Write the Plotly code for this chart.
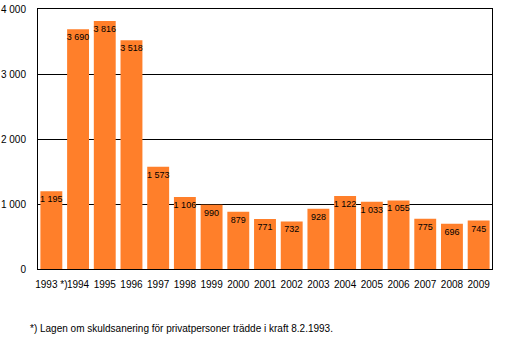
import plotly.graph_objects as go

years = ["1993 *)", "1994", "1995", "1996", "1997", "1998", "1999", "2000", "2001",
         "2002", "2003", "2004", "2005", "2006", "2007", "2008", "2009"]
values = [1195, 3690, 3816, 3518, 1573, 1106, 990, 879, 771, 732, 928, 1122, 1033, 1055, 775, 696, 745]
y_ticks = [0, 1000, 2000, 3000, 4000]
y_tick_labels = ["0", "1 000", "2 000", "3 000", "4 000"]
footnote = "*) Lagen om skuldsanering för privatpersoner trädde i kraft 8.2.1993."


def fmt(v):
    return f"{v:,}".replace(",", " ")


fig = go.Figure(go.Bar(
    x=years, y=values,
    marker=dict(color="#FF7F2A", line=dict(width=0)),
    text=[fmt(v) for v in values],
    textposition="inside",
    insidetextanchor="end",
    textangle=0,
    textfont=dict(family="Liberation Sans, Arial, sans-serif", size=9, color="black"),
    cliponaxis=False,
))

fig.update_layout(
    width=518, height=354,
    margin=dict(l=38, r=26, t=9, b=85),
    paper_bgcolor="white", plot_bgcolor="white",
    bargap=0.18,
    showlegend=False,
    font=dict(family="Liberation Sans, Arial, sans-serif", size=10, color="black"),
    uniformtext=dict(minsize=9, mode="show"),
)
fig.update_xaxes(
    showline=True, linecolor="black", linewidth=1, mirror=True,
    showgrid=False, ticks="", tickangle=0, automargin=False,
    ticklabelstandoff=6,
    tickfont=dict(size=10, color="black"),
)
fig.update_yaxes(
    range=[0, 4000], tickvals=y_ticks, ticktext=y_tick_labels,
    showline=True, linecolor="black", linewidth=1, mirror=True,
    showgrid=True, gridcolor="black", gridwidth=1,
    zeroline=False, ticks="", automargin=False,
    ticklabelstandoff=9,
    tickfont=dict(size=10, color="black"),
)
fig.add_annotation(
    text=footnote, xref="paper", yref="paper", x=-0.022, y=-0.2,
    xanchor="left", yanchor="top", showarrow=False,
    font=dict(size=10, color="black"),
)
fig.write_html("out.html")
